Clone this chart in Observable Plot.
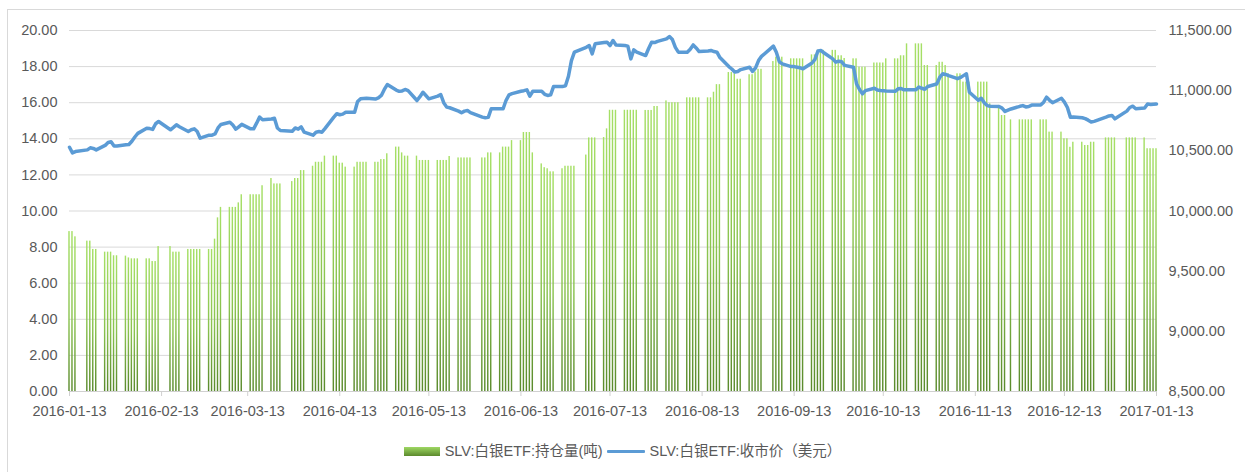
<!DOCTYPE html>
<html>
<head>
<meta charset="utf-8">
<script src="https://cdn.jsdelivr.net/npm/d3@7"></script>
<script src="https://cdn.jsdelivr.net/npm/@observablehq/plot@0.6"></script>
<style>
  html, body { margin: 0; padding: 0; background: #fff; }
  #wrap { position: relative; width: 1245px; height: 472px; overflow: hidden; background: #fff; }
  #frame { position: absolute; left: 7px; top: 9px; right: -5px; bottom: -5px; border-left: 1px solid #d9d9d9; border-top: 1px solid #d9d9d9; }
  .layer { position: absolute; left: 0; top: 0; }
  #legend { position: absolute; left: 0; top: 441px; width: 1245px; height: 20px; display: flex; justify-content: center; align-items: center;
            font-family: "Liberation Sans", "Noto Sans CJK SC", sans-serif; font-size: 14.5px; color: #595959; line-height: 20px; }
  .sw-bar { display: inline-block; width: 36px; height: 9px; background: linear-gradient(#9ed763, #5c8a2d); margin-right: 5px; }
  .sw-line { display: inline-block; width: 38px; height: 3px; background: #5b9bd5; margin: 0 5px 0 4px; border-radius: 1px; }
</style>
</head>
<body>
<div id="wrap">
  <div id="frame"></div>
  <div id="bars" class="layer"></div>
  <div id="line" class="layer"></div>
  <div id="legend">
    <span class="sw-bar"></span><span>SLV:白银ETF:持仓量(吨)</span><span class="sw-line"></span><span>SLV:白银ETF:收市价（美元）</span>
  </div>
</div>
<script>
// Trading days (month -> day numbers)
const tradeDays = [
  ["2016-01", [13,14,15,19,20,21,22,25,26,27,28,29]],
  ["2016-02", [1,2,3,4,5,8,9,10,11,12,16,17,18,19,22,23,24,25,26,29]],
  ["2016-03", [1,2,3,4,7,8,9,10,11,14,15,16,17,18,21,22,23,24,28,29,30,31]],
  ["2016-04", [1,4,5,6,7,8,11,12,13,14,15,18,19,20,21,22,25,26,27,28,29]],
  ["2016-05", [2,3,4,5,6,9,10,11,12,13,16,17,18,19,20,23,24,25,26,27,31]],
  ["2016-06", [1,2,3,6,7,8,9,10,13,14,15,16,17,20,21,22,23,24,27,28,29,30]],
  ["2016-07", [1,5,6,7,8,11,12,13,14,15,18,19,20,21,22,25,26,27,28,29]],
  ["2016-08", [1,2,3,4,5,8,9,10,11,12,15,16,17,18,19,22,23,24,25,26,29,30,31]],
  ["2016-09", [1,2,6,7,8,9,12,13,14,15,16,19,20,21,22,23,26,27,28,29,30]],
  ["2016-10", [3,4,5,6,7,10,11,12,13,14,17,18,19,20,21,24,25,26,27,28,31]],
  ["2016-11", [1,2,3,4,7,8,9,10,11,14,15,16,17,18,21,22,23,25,28,29,30]],
  ["2016-12", [1,2,5,6,7,8,9,12,13,14,15,16,19,20,21,22,23,27,28,29,30]],
  ["2017-01", [3,4,5,6,9,10,11,12,13]]
];

// SLV holdings (left axis), one per trading day, week by week
const holdings = [
  8.86,8.86,8.57,
  8.33,8.33,7.87,7.87,
  7.72,7.72,7.72,7.52,7.52,
  7.50,7.40,7.35,7.35,7.35,
  7.35,7.35,7.20,7.20,8.03,
  8.03,7.72,7.72,7.72,
  7.87,7.87,7.87,7.87,7.87,
  7.87,7.87,8.44,9.62,10.20,
  10.20,10.20,10.20,10.45,10.90,
  10.90,10.90,10.90,10.90,11.40,
  11.80,11.50,11.50,11.50,
  11.63,11.80,11.80,12.24,12.24,
  12.48,12.70,12.70,12.70,13.04,
  13.04,13.04,12.65,12.65,12.43,
  12.43,12.70,12.70,12.70,12.70,
  12.70,12.70,12.85,12.85,13.17,
  13.54,13.54,13.22,13.04,13.04,
  13.04,12.80,12.80,12.80,12.80,
  12.80,12.80,12.80,12.80,13.02,
  12.94,12.94,12.94,12.94,12.94,
  12.94,12.94,13.22,13.22,
  13.22,13.54,13.54,13.54,13.90,
  13.90,14.35,14.35,14.35,13.22,
  12.61,12.40,12.34,12.17,12.17,
  12.34,12.48,12.48,12.48,12.48,
  13.10,14.05,14.05,14.05,
  14.07,14.55,15.58,15.58,15.58,
  15.58,15.58,15.58,15.58,15.58,
  15.57,15.57,15.57,15.79,15.79,
  16.10,16.00,16.00,16.00,16.00,
  16.27,16.27,16.27,16.27,16.27,
  16.27,16.27,16.58,17.00,17.00,
  17.67,17.67,17.60,17.30,17.30,
  17.55,17.55,17.70,17.85,17.85,
  18.28,18.52,18.52,18.52,
  18.43,18.43,18.43,18.43,18.43,
  18.65,18.65,18.90,18.90,18.90,
  18.90,18.90,18.60,18.60,18.45,
  18.43,18.43,17.97,17.97,17.97,
  18.20,18.20,18.20,18.20,18.43,
  18.43,18.43,18.60,18.60,19.26,
  19.26,19.26,19.26,18.06,18.06,
  18.06,18.24,18.24,18.06,17.60,
  17.60,17.60,17.14,17.14,17.14,
  17.14,17.14,17.14,17.14,15.94,
  15.85,15.29,15.29,15.05,
  15.05,15.05,15.05,15.05,15.05,
  15.05,15.05,15.05,14.37,14.37,
  14.37,14.00,14.00,13.53,13.81,
  13.81,13.63,13.63,13.81,13.81,
  14.05,14.05,14.05,14.05,
  14.05,14.05,14.05,14.05,
  14.05,13.45,13.45,13.45,13.45
];

// SLV closing price (right axis), one per trading day
const prices = [
  10530,10483,10494,10508,10525,10520,10508,10545,10570,10575,10540,10540,
  10550,10553,10580,10615,10645,10688,10685,10678,10725,10744,10675,10695,10716,10700,10661,10675,10683,10660,10605,10630,
  10630,10640,10690,10719,10738,10715,10680,10700,10720,10683,10683,10730,10780,10758,10765,10771,10690,10669,10663,10690,10680,10700,
  10655,10630,10655,10660,10655,10685,10780,10808,10800,10805,10821,10821,10910,10932,10935,10937,10930,10940,10960,11010,11051,
  11005,10995,10998,11010,11000,10918,10950,10987,10960,10932,10955,10968,10900,10863,10858,10830,10816,10830,10835,10818,10780,
  10775,10778,10850,10850,10850,10920,10965,10975,10995,11000,11007,10954,10995,10995,10970,10960,10965,11035,11035,11040,11120,11250,
  11320,11360,11375,11306,11390,11400,11403,11375,11417,11380,11375,11370,11264,11339,11320,11292,11350,11403,11400,11410,
  11430,11450,11425,11360,11320,11320,11345,11380,11355,11325,11330,11334,11325,11320,11275,11200,11180,11155,11160,11175,11195,11160,11190,
  11250,11285,11370,11320,11240,11223,11200,11200,11195,11190,11182,11230,11260,11330,11334,11315,11264,11237,11245,11240,11210,
  11195,11057,11010,10974,11000,11020,11005,11001,11000,10998,10995,11015,11018,11007,11007,11007,11030,11020,11012,11035,11055,
  11110,11140,11135,11125,11100,11110,11125,11140,10987,10920,10937,10900,10876,10870,10868,10855,10827,10848,10870,10876,10865,
  10868,10880,10880,10904,10946,10920,10900,10937,10905,10860,10780,10782,10775,10768,10755,10740,10745,10780,10790,10794,10766,
  10830,10860,10871,10850,10855,10890,10885,10888,10890
];

// Axis ticks
const xTickLabels = ["2016-01-13","2016-02-13","2016-03-13","2016-04-13","2016-05-13","2016-06-13","2016-07-13",
                     "2016-08-13","2016-09-13","2016-10-13","2016-11-13","2016-12-13","2017-01-13"];
const leftTicks = [0,2,4,6,8,10,12,14,16,18,20];
const rightTicks = [8500,9000,9500,10000,10500,11000,11500];

const dates = tradeDays.flatMap(([m, ds]) => ds.map(d => new Date(`${m}-${String(d).padStart(2, "0")}T00:00:00Z`)));
const data = dates.map((date, i) => ({date, hold: holdings[i], price: prices[i]}));
const xTicks = xTickLabels.map(s => new Date(s + "T00:00:00Z"));
const DAY = 864e5;

const W = 1245, H = 430;
const common = {
  width: W, height: H,
  marginLeft: 69, marginRight: 89, marginTop: 30, marginBottom: 39,
  style: {fontFamily: "'Liberation Sans', 'Noto Sans CJK SC', sans-serif", fontSize: "14.5px", color: "#595959", background: "transparent", overflow: "visible"}
};
const xDomain = [xTicks[0], xTicks[xTicks.length - 1]];

const barsPlot = Plot.plot({
  ...common,
  x: {type: "utc", domain: xDomain},
  y: {domain: [0, 20]},
  marks: [
    Plot.gridY(leftTicks, {stroke: "#d9d9d9", strokeOpacity: 1, strokeWidth: 1}),
    Plot.rect(data, {
      x1: d => new Date(+d.date - 0.24 * DAY),
      x2: d => new Date(+d.date + 0.24 * DAY),
      y1: 0, y2: "hold",
      fill: "url(#barGrad)"
    }),
    Plot.ruleY([0], {stroke: "#d0d0d0", strokeWidth: 1}),
    Plot.axisY(leftTicks, {tickSize: 0, tickPadding: 12, tickFormat: d3.format(".2f"), label: null, fill: "#595959"}),
    Plot.axisX(xTicks, {tickSize: 5, tickPadding: 9, tickFormat: d3.utcFormat("%Y-%m-%d"), label: null, stroke: "#d0d0d0", fill: "#595959"})
  ]
});

// Gradient for the bars
const ns = "http://www.w3.org/2000/svg";
const defs = document.createElementNS(ns, "defs");
defs.innerHTML = `<linearGradient id="barGrad" x1="0" y1="0" x2="0" y2="1">
  <stop offset="0" stop-color="#a6e066"/><stop offset="0.55" stop-color="#8ac34f"/><stop offset="1" stop-color="#5a8a2c"/></linearGradient>`;
barsPlot.insertBefore(defs, barsPlot.firstChild);
document.getElementById("bars").appendChild(barsPlot);

const linePlot = Plot.plot({
  ...common,
  x: {type: "utc", domain: xDomain, axis: null},
  y: {domain: [8500, 11500], axis: null},
  marks: [
    Plot.line(data, {x: "date", y: "price", stroke: "#5b9bd5", strokeWidth: 3.5, strokeLinejoin: "round", strokeLinecap: "round"}),
    Plot.axisY(rightTicks, {anchor: "right", tickSize: 0, tickPadding: 12, tickFormat: d3.format(",.2f"), label: null, fill: "#595959"})
  ]
});
document.getElementById("line").appendChild(linePlot);
</script>
</body>
</html>
